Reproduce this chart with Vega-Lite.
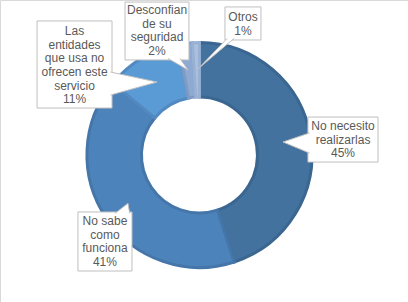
{
  "$schema": "https://vega.github.io/schema/vega-lite/v6.json",
  "width": 408,
  "height": 302,
  "autosize": {"type": "fit", "contains": "padding"},
  "padding": 0,
  "background": "white",
  "config": {"view": {"stroke": "#d9d9d9", "strokeWidth": 1}},
  "datasets": {
    "slices": [
      {"category": "No necesito realizarlas", "value": 45, "ord": 1},
      {"category": "No sabe como funciona", "value": 41, "ord": 2},
      {"category": "Las entidades que usa no ofrecen este servicio", "value": 11, "ord": 3},
      {"category": "Desconfian de su seguridad", "value": 2, "ord": 4},
      {"category": "Otros", "value": 1, "ord": 5}
    ],
    "callouts": [
      {"id": "entidades", "x1": -142.5, "x2": -76.7, "y1": 117.6, "y2": 41.2, "tx": -109.6, "ty": 108.8, "label": "Las\nentidades\nque usa no\nofrecen este\nservicio\n11%"},
      {"id": "desconfian", "x1": -65.3, "x2": -9.2, "y1": 134.2, "y2": 83.4, "tx": -37.2, "ty": 127.2, "label": "Desconfian\nde su\nseguridad\n2%"},
      {"id": "otros", "x1": 22.4, "x2": 54.0, "y1": 129.9, "y2": 100.9, "tx": 38.2, "ty": 121.1, "label": "Otros\n1%"},
      {"id": "necesito", "x1": 95.2, "x2": 156.7, "y1": 33.3, "y2": -6.2, "tx": 126.0, "ty": 25.4, "label": "No necesito\nrealizarlas\n45%"},
      {"id": "sabe", "x1": -106.6, "x2": -59.2, "y1": -50.0, "y2": -101.8, "tx": -82.9, "ty": -57.9, "label": "No sabe\ncomo\nfunciona\n41%"}
    ],
    "wedges": [
      {"id": "entidades", "k": 1, "x": -78.0, "y": 72.8},
      {"id": "entidades", "k": 2, "x": -37.2, "y": 64.0},
      {"id": "entidades", "k": 3, "x": -78.0, "y": 52.6},
      {"id": "desconfian", "k": 1, "x": -27.6, "y": 84.7},
      {"id": "desconfian", "k": 2, "x": -10.0, "y": 74.6},
      {"id": "desconfian", "k": 3, "x": -17.1, "y": 84.7},
      {"id": "otros", "k": 1, "x": 24.2, "y": 102.2},
      {"id": "otros", "k": 2, "x": -1.3, "y": 75.5},
      {"id": "otros", "k": 3, "x": 30.3, "y": 102.2},
      {"id": "necesito", "k": 1, "x": 96.5, "y": 19.3},
      {"id": "necesito", "k": 2, "x": 73.3, "y": 11.4},
      {"id": "necesito", "k": 3, "x": 96.5, "y": 1.7},
      {"id": "sabe", "k": 1, "x": -74.1, "y": -51.3},
      {"id": "sabe", "k": 2, "x": -62.7, "y": -42.4},
      {"id": "sabe", "k": 3, "x": -61.2, "y": -51.3}
    ]
  },
  "layer": [
    {
      "data": {"name": "slices"},
      "mark": {"type": "arc", "outerRadius": 112.5, "innerRadius": 58, "strokeWidth": 3},
      "encoding": {
        "x": {"datum": 0, "type": "quantitative", "scale": {"domain": [-175, 183], "nice": false, "zero": false}, "axis": null},
        "y": {"datum": 0, "type": "quantitative", "scale": {"domain": [-129, 136], "nice": false, "zero": false}, "axis": null},
        "theta": {"field": "value", "type": "quantitative", "stack": true},
        "order": {"field": "ord", "type": "quantitative"},
        "color": {
          "field": "category", "type": "nominal", "legend": null,
          "scale": {
            "domain": ["No necesito realizarlas", "No sabe como funciona", "Las entidades que usa no ofrecen este servicio", "Desconfian de su seguridad", "Otros"],
            "range": ["#43729e", "#4d83bb", "#5b9bd5", "#8eaad2", "#a9c0df"]
          }
        },
        "stroke": {
          "field": "category", "type": "nominal", "legend": null,
          "scale": {
            "domain": ["No necesito realizarlas", "No sabe como funciona", "Las entidades que usa no ofrecen este servicio", "Desconfian de su seguridad", "Otros"],
            "range": ["#3a6690", "#4576aa", "#5189c0", "#7f9bc4", "#98b1d4"]
          }
        }
      }
    },
    {
      "data": {"name": "callouts"},
      "mark": {"type": "rect", "fill": "white", "stroke": "#bfbfbf", "strokeWidth": 1},
      "encoding": {
        "x": {"field": "x1", "type": "quantitative", "scale": {"domain": [-175, 183], "nice": false, "zero": false}, "axis": null},
        "x2": {"field": "x2"},
        "y": {"field": "y1", "type": "quantitative", "scale": {"domain": [-129, 136], "nice": false, "zero": false}, "axis": null},
        "y2": {"field": "y2"}
      }
    },
    {
      "data": {"name": "wedges"},
      "mark": {"type": "line", "fill": "white", "stroke": "#bfbfbf", "strokeWidth": 1, "interpolate": "linear"},
      "encoding": {
        "x": {"field": "x", "type": "quantitative", "scale": {"domain": [-175, 183], "nice": false, "zero": false}, "axis": null},
        "y": {"field": "y", "type": "quantitative", "scale": {"domain": [-129, 136], "nice": false, "zero": false}, "axis": null},
        "detail": {"field": "id", "type": "nominal"},
        "order": {"field": "k", "type": "quantitative"}
      }
    },
    {
      "data": {"name": "callouts"},
      "mark": {"type": "text", "font": "Liberation Sans", "fontSize": 12, "color": "#595959", "align": "center", "baseline": "middle", "lineBreak": "\n", "lineHeight": 13.7},
      "encoding": {
        "x": {"field": "tx", "type": "quantitative", "scale": {"domain": [-175, 183], "nice": false, "zero": false}, "axis": null},
        "y": {"field": "ty", "type": "quantitative", "scale": {"domain": [-129, 136], "nice": false, "zero": false}, "axis": null},
        "text": {"field": "label", "type": "nominal"}
      }
    }
  ]
}
